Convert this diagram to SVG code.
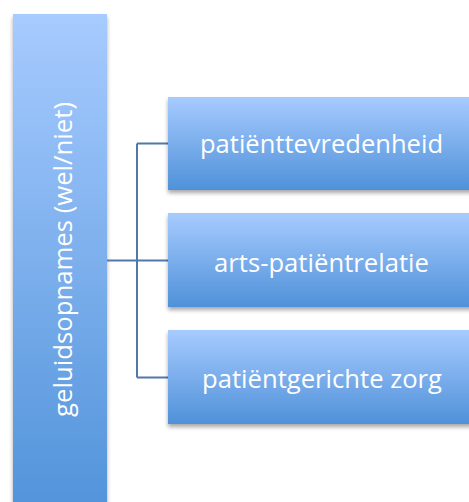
<svg xmlns="http://www.w3.org/2000/svg" width="469" height="502" viewBox="0 0 469 502">
  <defs>
    <linearGradient id="gBar" x1="0" y1="0" x2="0" y2="1">
      <stop offset="0" stop-color="#a7cbff"/>
      <stop offset="1" stop-color="#5193da"/>
    </linearGradient>
    <linearGradient id="gBox" x1="0" y1="0" x2="0" y2="1">
      <stop offset="0" stop-color="#a7cbff"/>
      <stop offset="1" stop-color="#4f91d9"/>
    </linearGradient>
    <filter id="shadow" x="-10%" y="-10%" width="120%" height="130%">
      <feGaussianBlur in="SourceAlpha" stdDeviation="2"/>
      <feOffset dx="0" dy="3" result="b"/>
      <feComponentTransfer><feFuncA type="linear" slope="0.35"/></feComponentTransfer>
      <feMerge><feMergeNode/><feMergeNode in="SourceGraphic"/></feMerge>
    </filter>
  </defs>
  <style>
    .box { fill: url(#gBox); filter: url(#shadow); }
    .bar { fill: url(#gBar); filter: url(#shadow); }
    .lbl { font-family: "Open Sans", "Liberation Sans", sans-serif; font-size: 25px; fill: #ffffff; text-anchor: middle; }
    .conn { fill: none; stroke: #5078ab; stroke-width: 2; }
  </style>
  <g id="root">
    <rect class="bar" x="13" y="14" width="94" height="500"/>
    <text class="lbl" transform="translate(72,259.5) rotate(-90)" textLength="315" lengthAdjust="spacingAndGlyphs">geluidsopnames (wel/niet)</text>
  </g>
  <g id="connectors">
    <path class="conn" d="M107 260.5 H168 M137 143.5 V377.5 M137 143.5 H168 M137 377.5 H168"/>
  </g>
  <g id="node1">
    <rect class="box" x="168" y="97" width="310" height="93"/>
    <text class="lbl" x="321.5" y="153" textLength="243" lengthAdjust="spacingAndGlyphs">patiënttevredenheid</text>
  </g>
  <g id="node2">
    <rect class="box" x="168" y="213" width="310" height="94"/>
    <text class="lbl" x="321.5" y="272" textLength="215" lengthAdjust="spacingAndGlyphs">arts-patiëntrelatie</text>
  </g>
  <g id="node3">
    <rect class="box" x="168" y="330" width="310" height="94"/>
    <text class="lbl" x="322" y="388" textLength="240" lengthAdjust="spacingAndGlyphs">patiëntgerichte zorg</text>
  </g>
</svg>
